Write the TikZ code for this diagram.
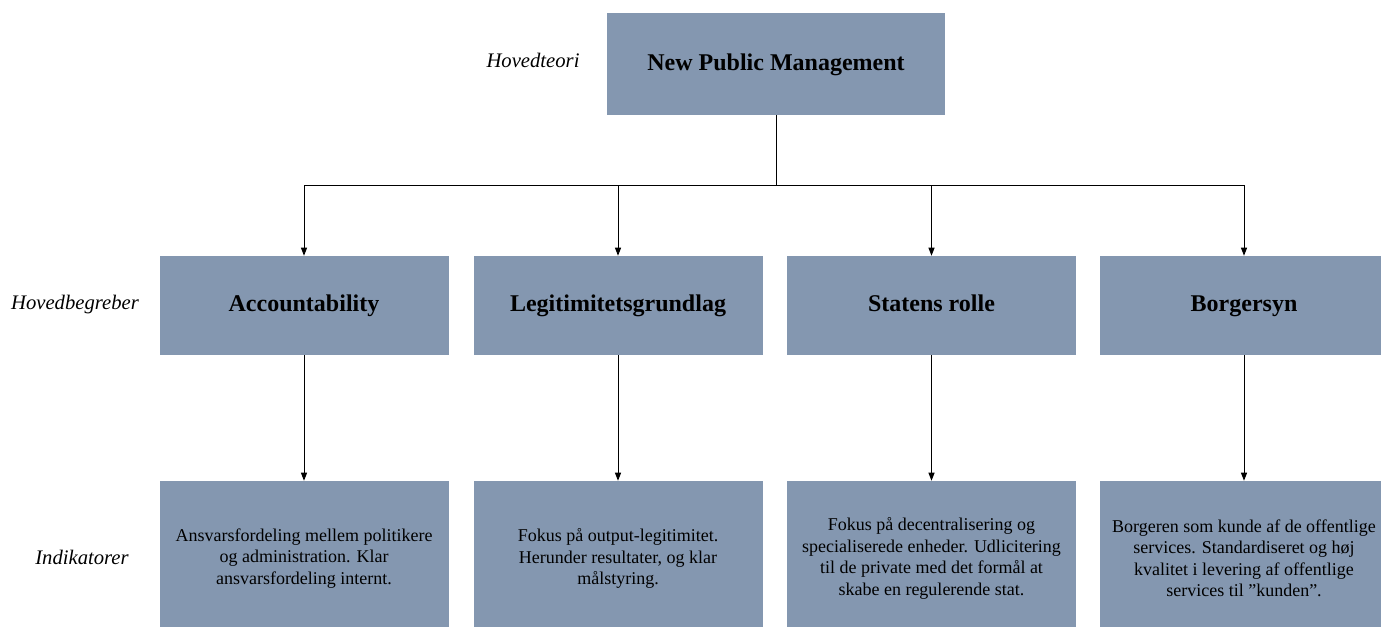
\documentclass[tikz,border=0pt]{standalone}
\usepackage{fontspec}
\setmainfont{Liberation Serif}
\usetikzlibrary{arrows.meta}
\definecolor{boxblue}{RGB}{132,151,176}
\tikzset{
  box/.style={fill=boxblue, draw=none, inner sep=0pt, align=center, text=black},
  topbox/.style={box, minimum width=253.5pt, minimum height=76.5pt, text height=12.5pt, text depth=3.5pt, font=\fontsize{18}{21}\selectfont\bfseries},
  midbox/.style={box, minimum width=216.75pt, minimum height=74.25pt, text height=12.5pt, text depth=3.5pt, font=\fontsize{18}{21}\selectfont\bfseries},
  botbox/.style={box, minimum width=216.75pt, minimum height=116.25pt, font=\fontsize{13.5}{16.1}\selectfont},
  sidelabel/.style={inner sep=0pt, font=\fontsize{15.5}{18}\selectfont\itshape},
  conn/.style={line width=0.75pt, draw=black},
  arr/.style={conn, -{Triangle[length=6pt,width=4.5pt]}}
}
\begin{document}
\begin{tikzpicture}[x=0.75pt,y=-0.75pt]
\useasboundingbox (0,0) rectangle (1381,626);
\clip (0,0) rectangle (1381,626);
\node[topbox] (top) at (776,64) {New Public Management};
\node[sidelabel] (l1) at (533,60) {Hovedteori};
\node[sidelabel] (l2) at (75,305) {Hovedbegreber};
\node[sidelabel] (l3) at (82,557) {Indikatorer};

\node[midbox] (a1) at (304,305.5) {Accountability};
\node[midbox] (a2) at (618,305.5) {Legitimitetsgrundlag};
\node[midbox] (a3) at (931.5,305.5) {Statens rolle};
\node[midbox] (a4) at (1244,305.5) {Borgersyn};

\node[botbox] (b1) at (304,558.5) {Ansvarsfordeling mellem politikere\\og administration. Klar\\ansvarsfordeling internt.};
\node[botbox] (b2) at (618,558.5) {Fokus på output-legitimitet.\\Herunder resultater, og klar\\målstyring.};
\node[botbox] (b3) at (931.5,558.5) {Fokus på decentralisering og\\specialiserede enheder. Udlicitering\\til de private med det formål at\\skabe en regulerende stat.};
\node[botbox] (b4) at (1244,558.5) {Borgeren som kunde af de offentlige\\services. Standardiseret og høj\\kvalitet i levering af offentlige\\services til ”kunden”.};

\coordinate (j) at (776,185);
\draw[conn] (top) -- (j);
\draw[arr] (j) -| (a1);
\draw[arr] (j) -| (a2);
\draw[arr] (j) -| (a3);
\draw[arr] (j) -| (a4);

\draw[arr] (a1) -- (b1);
\draw[arr] (a2) -- (b2);
\draw[arr] (a3) -- (b3);
\draw[arr] (a4) -- (b4);
\end{tikzpicture}
\end{document}
